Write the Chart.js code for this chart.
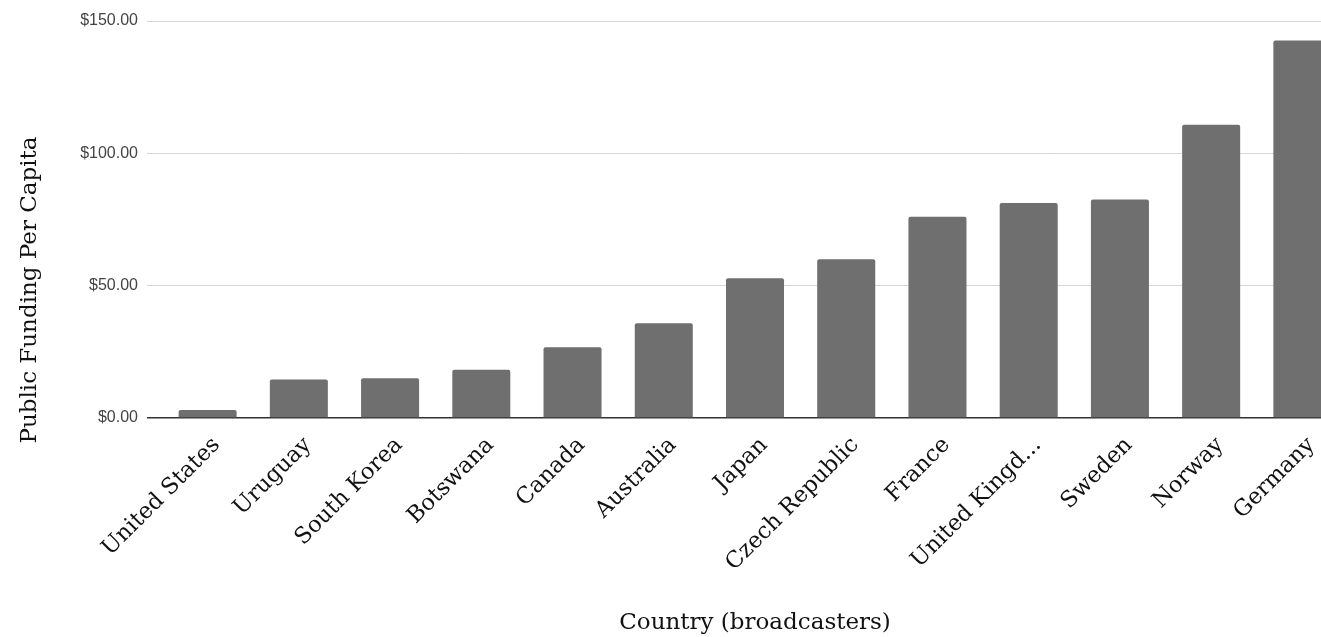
<!DOCTYPE html>
<html>
<head>
<meta charset="utf-8">
<script src="https://cdn.jsdelivr.net/npm/chart.js@4"></script>
<style>
	html, body { margin: 0; padding: 0; background: #fff; overflow: hidden; }
	#wrap { width: 1360px; height: 637px; }
</style>
</head>
<body>
<div id="wrap"><canvas id="chart" width="1360" height="637"></canvas></div>
<script>
const countries = [
	'United States', 'Uruguay', 'South Korea', 'Botswana', 'Canada', 'Australia',
	'Japan', 'Czech Republic', 'France', 'United Kingd...', 'Sweden', 'Norway', 'Germany',
];
const fundingPerCapita = [3.0, 14.5, 15.0, 18.2, 26.7, 35.8, 52.8, 60.0, 76.0, 81.2, 82.6, 110.8, 142.6];
const yTicks = [0, 50, 100, 150];
const yTitle = 'Public Funding Per Capita';
const xTitle = 'Country (broadcasters)';

const serif = '"DejaVu Serif", "Liberation Serif", serif';
const plotLeft = 162;
const plotBottom = 418;

// the y title sits lower than the plot centre in the reference, so draw it here
const yTitlePlugin = {
	id: 'yTitle',
	afterDraw(chart) {
		const c = chart.ctx;
		c.save();
		c.translate(30, 290);
		c.rotate(-Math.PI / 2);
		c.font = '23px ' + serif;
		c.fillStyle = '#111';
		c.textAlign = 'center';
		c.textBaseline = 'middle';
		c.fillText(yTitle, 0, 0);
		c.restore();
	},
};

const ctx = document.querySelector('#chart').getContext('2d');

// bar chart, right edge is cut off like the reference
new Chart(ctx, {
	type: 'bar',
	data: {
		labels: countries,
		datasets: [
			{
				label: yTitle,
				data: fundingPerCapita,
				backgroundColor: '#6f6f6f',
				borderRadius: { topLeft: 2, topRight: 2 },
				borderSkipped: 'start',
				barPercentage: 0.636,
				categoryPercentage: 1,
			},
		],
	},
	plugins: [yTitlePlugin],
	options: {
		responsive: false,
		animation: false,
		layout: { padding: { left: 16, top: 21, right: 12, bottom: 0 } },
		plugins: {
			legend: { display: false },
			tooltip: { enabled: false },
		},
		scales: {
			x: {
				offset: true,
				grid: { display: false, drawTicks: false },
				border: { display: false },
				ticks: {
					autoSkip: false,
					minRotation: 45,
					maxRotation: 45,
					padding: 14,
					labelOffset: 9,
					color: '#111',
					font: { family: serif, size: 22.5 },
				},
				title: {
					display: true,
					text: xTitle,
					color: '#111',
					padding: 0,
					font: { family: serif, size: 23 },
				},
				afterFit: (scale) => {
					scale.height = 637 - plotBottom;
					scale.paddingLeft = 0;
					scale.paddingRight = 0;
				},
			},
			y: {
				min: 0,
				max: 150,
				afterBuildTicks: (scale) => {
					scale.ticks = yTicks.map((v) => ({ value: v }));
				},
				grid: {
					color: (c) => (c.tick && c.tick.value === 0 ? '#333' : '#d6d6d6'),
					lineWidth: (c) => (c.tick && c.tick.value === 0 ? 1.5 : 1),
					drawTicks: true,
					tickLength: 15,
				},
				border: { display: false },
				ticks: {
					padding: 9,
					color: '#444',
					font: { family: '"Liberation Sans", Arial, sans-serif', size: 16 },
					callback: (v) => '$' + Number(v).toFixed(2),
				},
				afterFit: (scale) => {
					scale.width = plotLeft - 16;
				},
			},
		},
	},
});
</script>
</body>
</html>
